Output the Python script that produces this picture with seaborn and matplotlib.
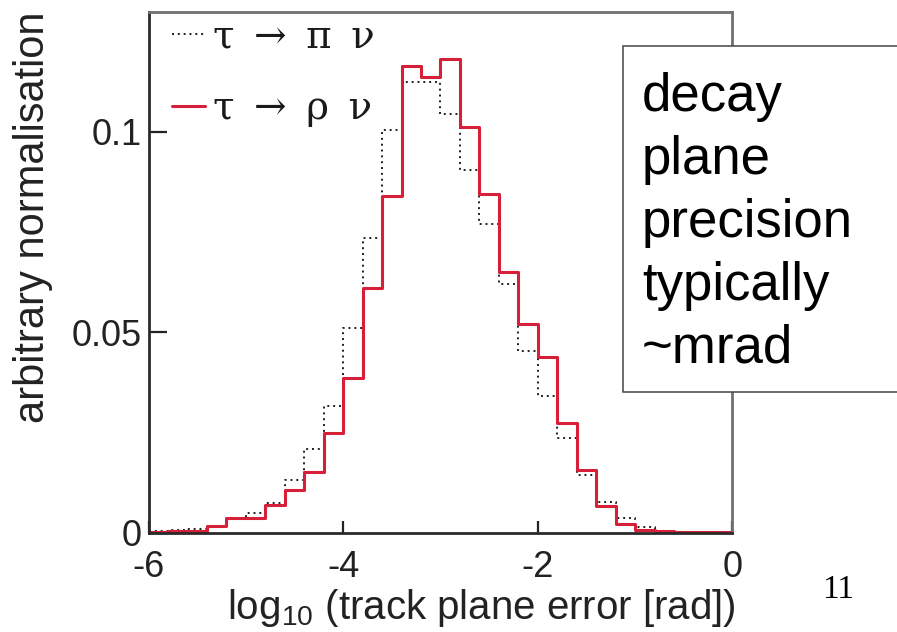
import numpy as np
import pandas as pd
import matplotlib
matplotlib.use("Agg")
import matplotlib.pyplot as plt
import seaborn as sns
from matplotlib.patches import Rectangle

# ---------------- data ----------------
x_range = (-6.0, 0.0)
n_bins = 30                                            # bins of width 0.2
bin_centers = np.round(np.arange(-5.9, 0.0, 0.2), 2)

pi_nu = [0.0005, 0.0007, 0.0010, 0.0018, 0.0038, 0.0050, 0.0075, 0.0132, 0.0209, 0.0316,
         0.0510, 0.0735, 0.1006, 0.1125, 0.1125, 0.1045, 0.0905, 0.0770, 0.0620, 0.0454,
         0.0341, 0.0236, 0.0144, 0.0078, 0.0036, 0.0015, 0.0004, 0.0003, 0.0002, 0.0002]

rho_nu = [0.0003, 0.0004, 0.0005, 0.0016, 0.0036, 0.0036, 0.0070, 0.0107, 0.0153, 0.0248,
          0.0387, 0.0611, 0.0840, 0.1165, 0.1138, 0.1183, 0.1013, 0.0846, 0.0650, 0.0521,
          0.0438, 0.0275, 0.0157, 0.0068, 0.0021, 0.0006, 0.0004, 0.0003, 0.0003, 0.0003]

series_labels = ["τ\u2002→\u2002π\u2002ν", "τ\u2002→\u2002ρ\u2002ν"]
x_ticks = [-6, -4, -2, 0]
x_tick_labels = ["-6", "-4", "-2", "0"]
y_ticks = [0, 0.05, 0.1]
y_tick_labels = ["0", "0.05", "0.1"]
x_label = r"log$_{10}$ (track plane error [rad])"
y_label = "arbitrary normalisation"
box_lines = ["decay", "plane", "precision", "typically", "~mrad"]
page_number = "11"

df_pi = pd.DataFrame({"x": bin_centers, "w": pi_nu})
df_rho = pd.DataFrame({"x": bin_centers, "w": rho_nu})

# ---------------- style ----------------
sns.set_style("ticks")
plt.rcParams["font.family"] = ["Liberation Sans", "DejaVu Sans"]
plt.rcParams["mathtext.fontset"] = "custom"
plt.rcParams["mathtext.rm"] = "Liberation Sans"
plt.rcParams["mathtext.it"] = "Liberation Sans:italic"
plt.rcParams["mathtext.bf"] = "Liberation Sans:bold"

W, H = 897, 632
fig = plt.figure(figsize=(W / 100, H / 100), dpi=100)
fig.patch.set_facecolor("white")

ax_l, ax_r, ax_t, ax_b = 148.5, 732.4, 11.7, 532.9
ax = fig.add_axes([ax_l / W, 1 - ax_b / H, (ax_r - ax_l) / W, (ax_b - ax_t) / H])
ax.set_facecolor("white")

black = "#1e1e1e"
red = "#d62039"

sns.histplot(data=df_pi, x="x", weights="w", bins=n_bins, binrange=x_range,
             element="step", fill=False, color=black, linestyle=(0, (1.0, 2.0)),
             linewidth=1.4, ax=ax)
sns.histplot(data=df_rho, x="x", weights="w", bins=n_bins, binrange=x_range,
             element="step", fill=False, color=red, linewidth=2.2, ax=ax)

ax.set_xlim(*x_range)
ax.set_ylim(0, 0.13)

ax.set_xticks(x_ticks, x_tick_labels)
ax.set_yticks(y_ticks, y_tick_labels)
ax.tick_params(axis="both", direction="in", width=1.6, color="#222222", labelsize=26,
               labelcolor="#222222")
ax.tick_params(axis="x", length=9, pad=12)
ax.tick_params(axis="y", length=13, pad=5)

for side in ["left", "bottom"]:
    ax.spines[side].set_color("#2a2a2a")
    ax.spines[side].set_linewidth(2.0)
for side in ["top", "right"]:
    ax.spines[side].set_color("#707070")
    ax.spines[side].set_linewidth(2.0)
    ax.spines[side].set_visible(True)

ax.set_xlabel(x_label, fontsize=29, color="#222222", ha="right")
ax.xaxis.set_label_coords(1.005, (ax_b - 587) / (ax_b - ax_t))
ax.set_ylabel(y_label, fontsize=30, color="#222222")
ax.yaxis.set_label_coords((53 - ax_l) / (ax_r - ax_l), (ax_b - 217) / (ax_b - ax_t))

# legend
handles = [ax.lines[0], ax.lines[1]]
leg = ax.legend(handles=handles, labels=series_labels, loc="upper left",
                bbox_to_anchor=((172 - ax_l) / (ax_r - ax_l), (ax_b - 19) / (ax_b - ax_t)),
                frameon=False, borderpad=0, borderaxespad=0,
                prop={"family": ["DejaVu Serif"], "size": 28},
                handlelength=0.85, handletextpad=0.2, labelspacing=0.88)
for t in leg.get_texts():
    t.set_color("#1a1a1a")

# text box (slide annotation)
box = Rectangle((622.7 / W, 1 - 391.7 / H), (W + 10 - 622.7) / W, (391.7 - 45.7) / H,
                transform=fig.transFigure, facecolor="white", edgecolor="#444444",
                linewidth=1.1, zorder=5)
fig.patches.append(box)
fig.text(642 / W, 1 - 72 / H, "\n".join(box_lines), ha="left", va="top",
         fontsize=38, linespacing=1.33, color="black", zorder=6)

fig.text(838 / W, 1 - 590 / H, page_number, ha="center", va="center",
         family=["Liberation Serif", "DejaVu Serif"], fontsize=24, color="black")

fig.savefig("out.png", dpi=100)
